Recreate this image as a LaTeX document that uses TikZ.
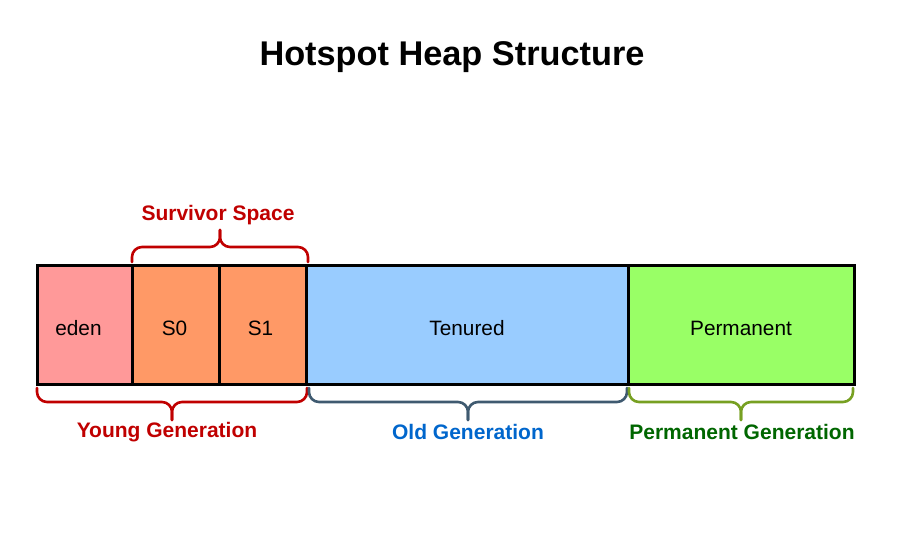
\documentclass[tikz,border=0pt]{standalone}
\usepackage{fontspec}
\setmainfont{Liberation Sans}
\usetikzlibrary{calc}
\definecolor{edenc}{HTML}{FF9999}
\definecolor{survc}{HTML}{FF9966}
\definecolor{tenc}{HTML}{99CCFF}
\definecolor{permc}{HTML}{99FF66}
\definecolor{redc}{HTML}{C00000}
\definecolor{oldbrace}{HTML}{3F5A70}
\definecolor{oldtext}{HTML}{0066CC}
\definecolor{permbrace}{HTML}{77A022}
\definecolor{permtext}{HTML}{006600}
\tikzset{
  heapbox/.style={draw=black, line width=3pt, inner sep=0pt, outer sep=0pt, minimum height=119pt, font=\fontsize{20.8}{24}\selectfont, text depth=0pt, text height=21pt},
  bracepath/.style={line width=2.6pt, rounded corners=10pt, line cap=round},
  grouplabel/.style={font=\fontsize{21}{24}\selectfont\bfseries},
}
\begin{document}
\begin{tikzpicture}[x=1pt,y=-1pt]
\useasboundingbox (0,0) rectangle (908,538);
\node[font=\fontsize{34.3}{40}\selectfont\bfseries] (title) at (452,57) {Hotspot Heap Structure};
% boxes
\node[heapbox, fill=edenc, minimum width=95pt, anchor=north west] (eden) at (37,265) {\hspace*{-12pt}eden};
\node[heapbox, fill=survc, minimum width=87pt, anchor=north west] (s0) at (eden.north east) {S0\hspace*{2pt}};
\node[heapbox, fill=survc, minimum width=87pt, anchor=north west] (s1) at (s0.north east) {S1\hspace*{4pt}};
\node[heapbox, fill=tenc, minimum width=322pt, anchor=north west] (ten) at (s1.north east) {Tenured};
\node[heapbox, fill=permc, minimum width=226pt, anchor=north west] (perm) at (ten.north east) {Permanent};
% survivor brace
\coordinate (sl) at ($(s0.north west)+(0,-3)$);
\coordinate (sr) at ($(s1.north east)+(2,-3)$);
\coordinate (sc) at ($(sl)!0.5!(sr)$);
\draw[bracepath, redc] (sl) -- ++(0,-15) -| ($(sc)+(0,-32)$);
\draw[bracepath, redc] ($(sc)+(0,-32)$) |- ($(sr)+(0,-15)$) -- (sr);
\node[grouplabel, text=redc] (survlab) at ($(sc)+(-2,-47)$) {Survivor Space};
% young brace
\coordinate (yl) at ($(eden.south west)+(0,4)$);
\coordinate (yr) at ($(s1.south east)+(1,4)$);
\coordinate (yc) at ($(yl)!0.5!(yr)$);
\draw[bracepath, redc] (yl) -- ++(0,14) -| ($(yc)+(0,32)$);
\draw[bracepath, redc] ($(yc)+(0,32)$) |- ($(yr)+(0,14)$) -- (yr);
\node[grouplabel, text=redc] (younglab) at ($(yc)+(-5,44)$) {Young Generation};
% old brace
\coordinate (ol) at ($(ten.south west)+(3,4)$);
\coordinate (or) at ($(ten.south east)+(-1,4)$);
\coordinate (oc) at ($(ol)!0.5!(or)$);
\draw[bracepath, oldbrace] (ol) -- ++(0,14) -| ($(oc)+(0,32)$);
\draw[bracepath, oldbrace] ($(oc)+(0,32)$) |- ($(or)+(0,14)$) -- (or);
\node[grouplabel, text=oldtext] (oldlab) at ($(oc)+(0,44)$) {Old Generation};
% permanent brace
\coordinate (pl) at ($(perm.south west)+(1,4)$);
\coordinate (pr) at ($(perm.south east)+(-1,4)$);
\coordinate (pc) at ($(pl)!0.5!(pr)$);
\draw[bracepath, permbrace] (pl) -- ++(0,14) -| ($(pc)+(0,32)$);
\draw[bracepath, permbrace] ($(pc)+(0,32)$) |- ($(pr)+(0,14)$) -- (pr);
\node[grouplabel, text=permtext] (permlab) at ($(pc)+(1,44)$) {Permanent Generation};
\end{tikzpicture}
\end{document}
